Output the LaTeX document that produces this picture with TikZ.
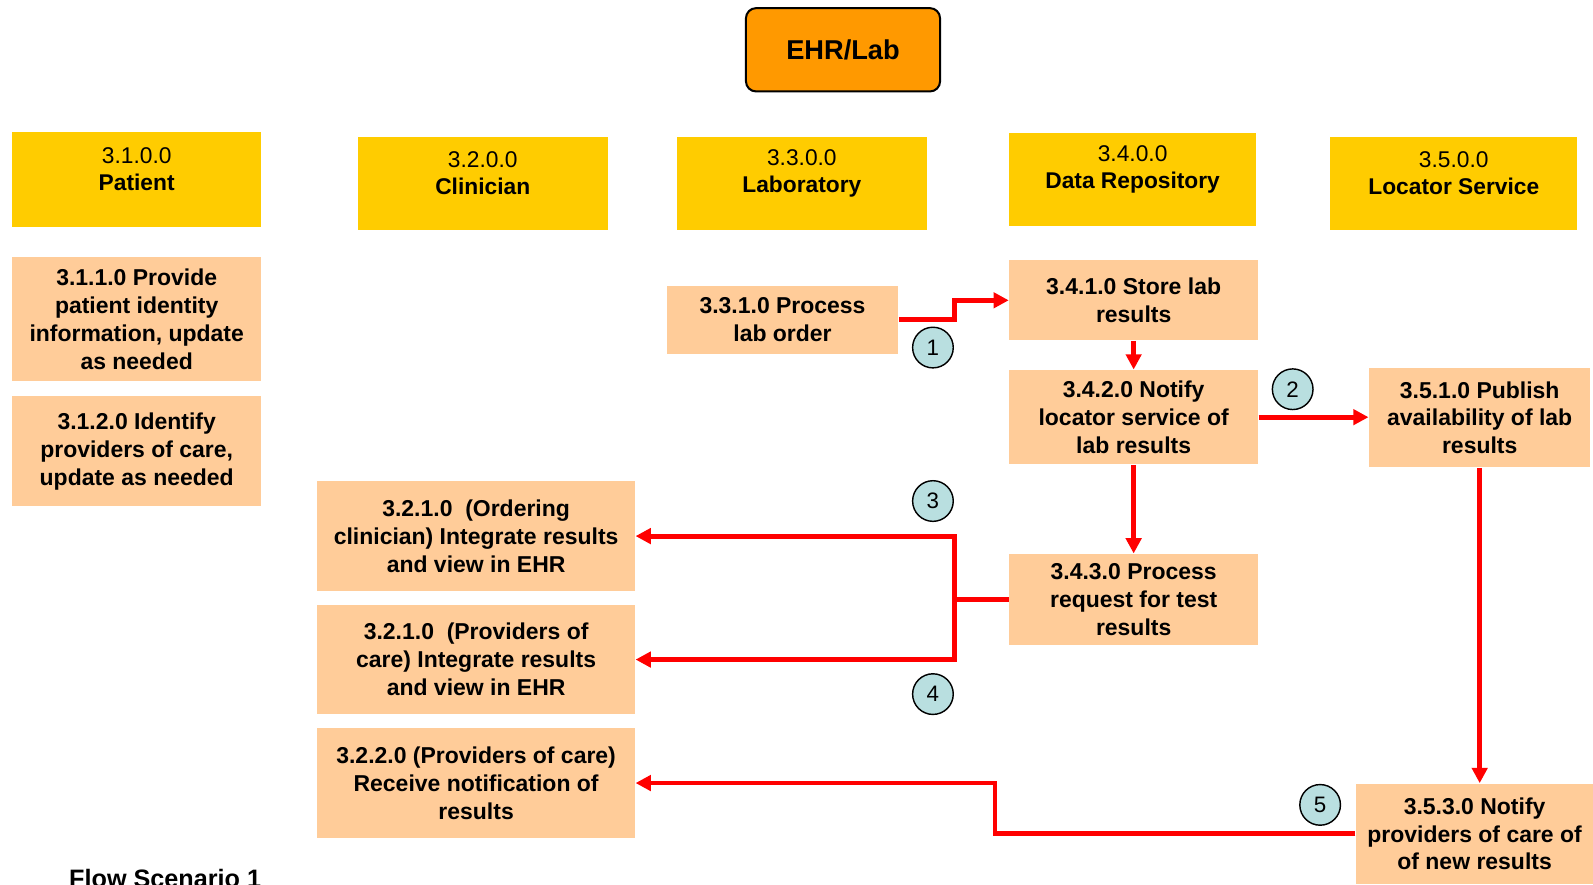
\documentclass[tikz,border=0pt]{standalone}
\usepackage{fontspec}
\setmainfont{Liberation Sans}
\usetikzlibrary{arrows.meta}
\definecolor{hdr}{HTML}{FFCC00}
\definecolor{peach}{HTML}{FFCC99}
\definecolor{ehrc}{HTML}{FF9900}
\definecolor{teal}{RGB}{185,223,224}
\tikzset{
  hbox/.style={fill=hdr, draw=none, inner sep=0pt},
  htext/.style={align=center, inner sep=0pt, font=\fontsize{11.2}{13.5}\selectfont},
  pbox/.style={fill=peach, draw=none, align=center, inner sep=0pt, font=\fontsize{11.3}{13.7}\selectfont\bfseries},
  num/.style={circle, fill=teal, draw=black, line width=0.7pt, minimum size=20pt, inner sep=0pt, font=\fontsize{11}{13}\selectfont},
  flow/.style={draw=red, line width=2.4pt, -{Triangle[length=7.5pt,width=7.5pt]}},
  plain/.style={draw=red, line width=2.4pt},
}
\begin{document}
\begin{tikzpicture}[x=0.5pt,y=-0.5pt]
\useasboundingbox (0,0) rectangle (1567.5,870.8);
% top
\node[fill=ehrc, draw=black, line width=1pt, rounded corners=5pt, minimum width=95.5pt, minimum height=41pt, font=\fontsize{13.4}{16}\selectfont\bfseries] (ehr) at (829.5,49) {EHR/Lab};
% headers
\node[hbox, minimum width=122.5pt, minimum height=46.5pt] (h1) at (134.5,176.5) {};
\node[hbox, minimum width=123pt, minimum height=45.5pt] (h2) at (475,180.5) {};
\node[hbox, minimum width=123pt, minimum height=45.5pt] (h3) at (789,180.5) {};
\node[hbox, minimum width=121.5pt, minimum height=45.5pt] (h4) at (1114.5,176.5) {};
\node[hbox, minimum width=121.5pt, minimum height=45.5pt] (h5) at (1430.5,180.5) {};
\node[htext] (t1) at (134.5,166.5) {3.1.0.0\\\textbf{Patient}};
\node[htext] (t2) at (475,170.5) {3.2.0.0\\\textbf{Clinician}};
\node[htext] (t3) at (789,170.5) {3.3.0.0\\\textbf{Laboratory}};
\node[htext] (t4) at (1114.5,166.5) {3.4.0.0\\\textbf{Data Repository}};
\node[htext] (t5) at (1430.5,170.5) {3.5.0.0\\\textbf{Locator Service}};
% process boxes
\node[pbox, minimum width=122.5pt, minimum height=61pt] (p311) at (134.5,314) {3.1.1.0 Provide\\patient identity\\information, update\\as needed};
\node[pbox, minimum width=122.5pt, minimum height=54pt] (p312) at (134.5,444) {3.1.2.0 Identify\\providers of care,\\update as needed};
\node[pbox, minimum width=114pt, minimum height=33.5pt] (p331) at (770,314.5) {3.3.1.0 Process\\lab order};
\node[pbox, minimum width=122.5pt, minimum height=39.5pt] (p341) at (1115.5,295.5) {3.4.1.0 Store lab\\results};
\node[pbox, minimum width=122.5pt, minimum height=46.5pt] (p342) at (1115.5,410.5) {3.4.2.0 Notify\\locator service of\\lab results};
\node[pbox, minimum width=109pt, minimum height=49pt] (p351) at (1456,411) {3.5.1.0 Publish\\availability of lab\\results};
\node[pbox, minimum width=156.5pt, minimum height=54.5pt] (p321a) at (468.5,527.5) {3.2.1.0~ (Ordering\\clinician) Integrate results\\and view in EHR};
\node[pbox, minimum width=156.5pt, minimum height=54pt] (p321b) at (468.5,649) {3.2.1.0~ (Providers of\\care) Integrate results\\and view in EHR};
\node[pbox, minimum width=156.5pt, minimum height=54.5pt] (p322) at (468.5,770.5) {3.2.2.0 (Providers of care)\\Receive notification of\\results};
\node[pbox, minimum width=122.5pt, minimum height=45pt] (p343) at (1115.5,590) {3.4.3.0 Process\\request for test\\results};
\node[pbox, minimum width=117pt, minimum height=49.5pt] (p353) at (1451,820.5) {3.5.3.0 Notify\\providers of care of\\of new results};
% bend coordinates
\coordinate (k1) at (939,0);
\coordinate (k2) at (939,0);
\coordinate (k3) at (979,0);
% connectors
\draw[flow] (p331.east) -- (p331.east -| k1) |- (p341.west);
\draw[flow] (p341.south) -- (p342.north);
\draw[flow] (p342.east) -- (p342.east -| p351.west);
\draw[flow] (p342.south) -- (p343.north);
\draw[plain] (p343.west) -- (p343.west -| k2);
\draw[flow] (p343.west -| k2) |- (p321a.east);
\draw[flow] (p343.west -| k2) |- (p321b.east);
\draw[flow] (p351.south) -- (p351.south |- p353.north);
\draw[flow] (p353.west) -- (p353.west -| k3) |- (p322.east);
% numbers
\node[num] (n1) at (918,342) {1};
\node[num] (n2) at (1272,383) {2};
\node[num] (n3) at (918,493) {3};
\node[num] (n4) at (918,683) {4};
\node[num] (n5) at (1299,792) {5};
% caption
\node[anchor=base, inner sep=0pt, font=\fontsize{12.4}{15}\selectfont\bfseries] (cap) at (162.5,873) {Flow Scenario 1};
\end{tikzpicture}
\end{document}
